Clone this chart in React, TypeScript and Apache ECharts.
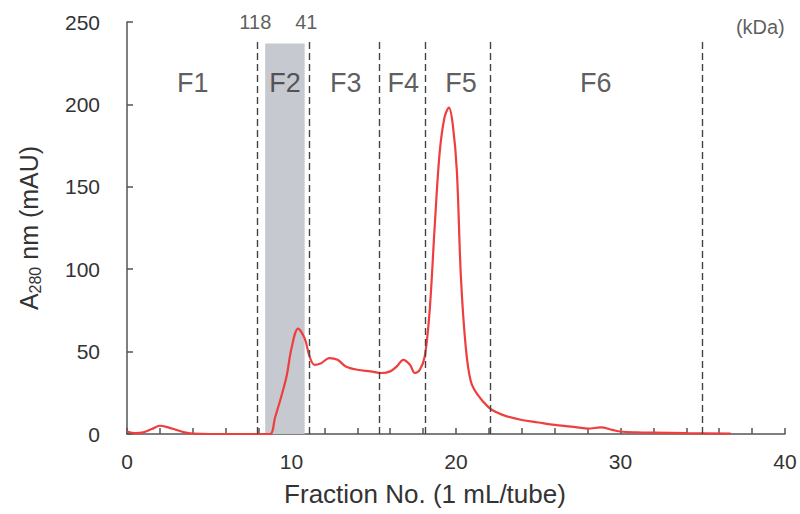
import React, { useEffect, useRef } from "react";
import * as echarts from "echarts";

const fraction = [0,0.5,1,1.5,2,2.5,3,3.5,4,5,6,7,8,8.7,9.0,9.3,9.7,10.0,10.4,10.8,11.1,11.4,11.8,12.3,12.8,13.3,14,14.8,15.5,16.0,16.4,16.8,17.2,17.5,17.8,18.1,18.4,18.7,19.0,19.3,19.57,19.8,20.05,20.3,20.6,20.9,21.3,22.0,22.5,23,24,25,26,27,28,28.8,29.5,30,31,32,34,36.7];
const absorbance = [1.5,0.5,1,3,5,4,2.5,1,0.3,0,0,0,0,0,10,20,35,52,64,58,47,42,43,46,45,41,39,38,37,38,41,45,42,37,39,47,75,125,170,192,198,188,160,95,52,32,24,16,13,11,8.5,7,5.5,4.5,3.3,4,2.5,1.5,1,0.8,0.5,0.3];

const dividers = [7.9, 11.1, 15.33, 18.15, 22.1, 34.95];
const dividerTop = 238;
const shadeRange = [8.4, 10.8];
const shadeTop = 237;

const fractionLabels = ["F1", "F2", "F3", "F4", "F5", "F6"];
const fractionLabelX = [4.0, 9.6, 13.3, 16.8, 20.3, 28.5];
const fractionLabelY = 213;

const markerLabels = ["118", "41", "(kDa)"];
const markerLabelX = [7.8, 10.9, 38.5];
const markerLabelY = [250, 250, 247];

const FONT = "Liberation Sans, Arial, sans-serif";
const TEXT = "#333";

export default function App() {
  const ref = useRef<HTMLDivElement>(null);
  useEffect(() => {
    const chart = echarts.init(ref.current!, null, { renderer: "svg" });
    const option: any = {
      animation: false,
      textStyle: { fontFamily: FONT, color: TEXT },
      grid: { left: 127, right: 15, top: 22, bottom: 80, outerBoundsMode: "none", containLabel: false },
      xAxis: {
        type: "value",
        min: 0,
        max: 40,
        interval: 10,
        name: "Fraction No. (1 mL/tube)",
        nameLocation: "middle",
        nameGap: 47,
        nameTextStyle: { fontSize: 26, color: TEXT, fontFamily: FONT, padding: [0, 62, 0, 0] },
        axisLine: { lineStyle: { color: "#555", width: 1.5 } },
        axisTick: { inside: true, length: 6, lineStyle: { color: "#555", width: 1.5 } },
        minorTick: { show: true, splitNumber: 5, length: 6, lineStyle: { color: "#555", width: 1.5 } },
        axisLabel: { fontSize: 21, color: TEXT, margin: 17, fontFamily: FONT },
        splitLine: { show: false },
      },
      yAxis: {
        type: "value",
        min: 0,
        max: 250,
        interval: 50,
        name: "A{sub|280} nm (mAU)",
        nameLocation: "middle",
        nameGap: 84,
        nameRotate: 90,
        nameTextStyle: {
          fontSize: 25,
          color: TEXT,
          fontFamily: FONT,
          rich: {
            sub: { fontSize: 16, color: TEXT, fontFamily: FONT, padding: [12, 0, 0, 0] },
          },
        },
        axisLine: { show: true, lineStyle: { color: "#555", width: 1.5 } },
        axisTick: { show: true, inside: true, length: 6, lineStyle: { color: "#555", width: 1.5 } },
        axisLabel: { fontSize: 21, color: TEXT, margin: 27, fontFamily: FONT },
        splitLine: { show: false },
      },
      series: [
        {
          type: "line",
          data: [],
          z: 1,
          silent: true,
          markArea: {
            silent: true,
            itemStyle: { color: "#c6c9d0" },
            data: [[{ xAxis: shadeRange[0], yAxis: 0 }, { xAxis: shadeRange[1], yAxis: shadeTop }]],
          },
          markLine: {
            silent: true,
            symbol: "none",
            label: { show: false },
            lineStyle: { color: "#444", type: [7, 4], width: 1.4 },
            data: dividers.map((d) => [{ coord: [d, 0] }, { coord: [d, dividerTop] }]),
          },
        },
        {
          type: "line",
          z: 3,
          smooth: 0.35,
          symbol: "none",
          lineStyle: { color: "#ee3e3e", width: 2.2 },
          data: fraction.map((f, i) => [f, absorbance[i]]),
        },
        {
          type: "scatter",
          z: 4,
          symbolSize: 0,
          clip: false,
          silent: true,
          label: {
            show: true,
            position: "inside",
            formatter: (p: any) => p.data.name,
            fontSize: 27,
            color: TEXT,
            fontFamily: FONT,
          },
          data: fractionLabels.map((n, i) => ({ name: n, value: [fractionLabelX[i], fractionLabelY] })),
        },
        {
          type: "scatter",
          z: 4,
          symbolSize: 0,
          clip: false,
          silent: true,
          label: {
            show: true,
            position: "inside",
            formatter: (p: any) => p.data.name,
            fontSize: 20,
            color: TEXT,
            fontFamily: FONT,
          },
          data: markerLabels.map((n, i) => ({ name: n, value: [markerLabelX[i], markerLabelY[i]] })),
        },
      ],
    };
    chart.setOption(option);
    return () => chart.dispose();
  }, []);
  return (
    <div
      ref={ref}
      style={{ position: "absolute", left: 0, top: 0, width: 800, height: 514 }}
    />
  );
}
